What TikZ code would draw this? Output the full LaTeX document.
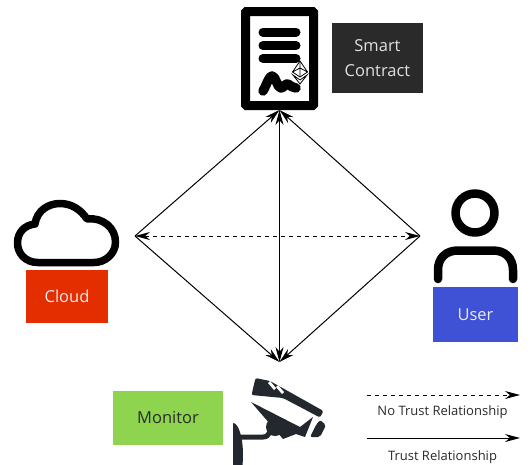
\documentclass[tikz,border=0pt]{standalone}
\usepackage{fontspec}
\setmainfont{Open Sans}
\usetikzlibrary{arrows.meta}
\definecolor{camcol}{HTML}{22282E}
\definecolor{txtdark}{HTML}{2A2A2A}
\tikzset{
  x=1pt,y=-1pt,
  tagbox/.style={minimum width=#1,inner sep=0pt,align=center,font=\fontsize{16.5}{25}\selectfont},
  link/.style={line width=1pt,draw=black,-{Stealth[length=15pt,width=8pt]}},
  twolink/.style={line width=1pt,draw=black,{Stealth[length=15pt,width=8pt]}-{Stealth[length=15pt,width=8pt]}},
  dashlink/.style={twolink,dash pattern=on 4pt off 4pt},
  legendtxt/.style={inner sep=0pt,text=txtdark,font=\fontsize{13}{15}\selectfont},
  icon/.style={line width=8.5pt,draw=black,line cap=round,line join=round},
}
\begin{document}
\begin{tikzpicture}
\useasboundingbox[fill=white] (0,0) rectangle (532,464);
% contract icon
\draw[draw=black,fill=white,line width=9pt,rounded corners=1pt] (245.5,11.5) rectangle (313.5,105.5);
\foreach \yy in {32,45.5,58.5}{\draw[line width=9pt,line cap=round] (263,\yy) -- (296,\yy);}
\draw[line width=9.5pt,line cap=round,line join=round] (263,91) .. controls (267,84) and (269,76) .. (272,76) .. controls (276,76) and (277,88) .. (281,88) .. controls (284,88) and (285,83) .. (288,84) .. controls (291,86) and (293,88) .. (296,88);
\draw[fill=white,line width=.8pt] (300,61) -- (292.5,72) -- (300,77) -- (307.5,72) -- cycle;
\draw[line width=.8pt] (292.5,72) -- (300,68) -- (307.5,72) (300,61) -- (300,77);
\draw[fill=white,line width=.8pt] (293,75) -- (300,80) -- (307,75) -- (300,84) -- cycle;
\node[tagbox=91.5pt,fill=txtdark,text=white!88!black,minimum height=70pt] (sc) at (377.5,58) {Smart\\Contract};
% cloud
\draw[icon,line width=7.5pt,fill=white] (38,262.5) .. controls (25,262.5) and (17.5,253) .. (17.5,243) .. controls (17.5,232) and (25,225) .. (35,224) .. controls (37,210) and (49,203.5) .. (60,203.5) .. controls (72,203.5) and (81,210) .. (87,219) .. controls (103,217) and (115.5,228) .. (115.5,242) .. controls (115.5,254) and (105,262.5) .. (94,262.5) -- cycle;
\node[tagbox=82pt,fill=red!60!orange!90!black,minimum height=53pt,text=white!92!black] (cloud) at (67,296.5) {Cloud};
% user
\draw[icon] (475,213) circle (19.5);
\draw[icon] (438,279) -- (438,270) .. controls (438,258) and (446,250.5) .. (458,250.5) -- (493,250.5) .. controls (505,250.5) and (513,258) .. (513,270) -- (513,279);
\node[tagbox=85pt,fill={rgb,255:red,63;green,82;blue,214},minimum height=55pt,text=white!92!black] (user) at (475.5,314.5) {User};
% monitor
\node[tagbox=110pt,fill={rgb,255:red,143;green,212;blue,78},minimum height=54pt,text=txtdark] (mon) at (168,418) {Monitor};
\fill[camcol,rounded corners=2pt] (255.5,378) -- (270,381) -- (323.5,411) -- (320,417.5) -- (283,398) -- (251.5,395) -- cycle;
\fill[white] (268,383) -- (270,381) -- (276,388) -- (274,390) -- cycle (276,387) -- (278,385) -- (284,392) -- (282,394) -- cycle;
\fill[camcol] (251,402) -- (300,427) -- (313,417) -- (305,437) -- (296,434) -- (283,439) -- cycle;
\fill[camcol,rounded corners=2pt] (320,420) -- (326,425) -- (320,437) -- (310,437) -- (316,425) -- cycle;
\fill[camcol] (275,427) circle (9);
\fill[camcol] (233,423) arc (-90:90:10 and 32) -- cycle;
\draw[camcol,line width=5pt] (240,437) -- (263,437) .. controls (270,437) and (270,430) .. (272,425);
% connectors
\coordinate (ct) at (279.5,110);
\coordinate (cb) at (279.5,362);
\coordinate (cl) at (135,236);
\coordinate (cr) at (420,236);
\draw[link] (cl) -- (ct);
\draw[link] (cr) -- (ct);
\draw[link] (cl) -- (cb);
\draw[link] (cr) -- (cb);
\draw[twolink] (ct) -- (cb);
\draw[dashlink] (cl) -- (cr);
% legend
\coordinate (a1) at (367,395);
\coordinate (a2) at (520,395);
\coordinate (b1) at (367,438);
\coordinate (b2) at (520,438);
\draw[link,dash pattern=on 4pt off 4pt] (a1) -- (a2);
\draw[link] (b1) -- (b2);
\node[legendtxt] (nt) at (442.5,412) {No Trust Relationship};
\node[legendtxt] (tr) at (442.5,457) {Trust Relationship};
\end{tikzpicture}
\end{document}
